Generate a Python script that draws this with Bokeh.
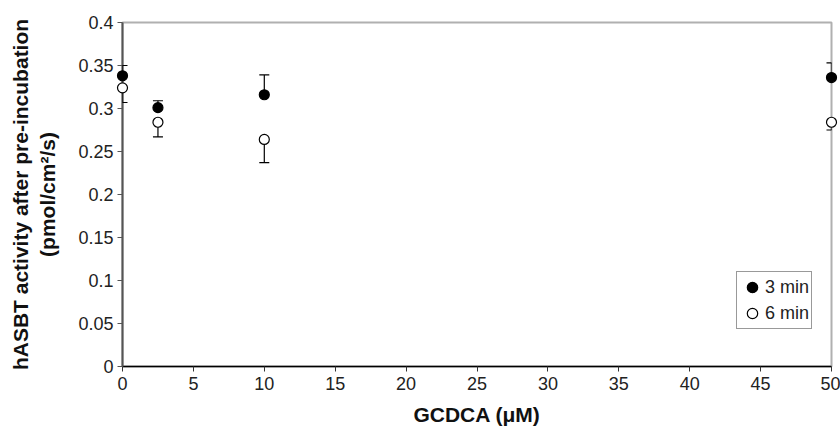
from bokeh.plotting import figure
from bokeh.models import (ColumnDataSource, Range1d, FixedTicker, CustomJSTickFormatter,
                          Whisker, TeeHead, Legend, LegendItem)
from bokeh.embed import file_html
from bokeh.resources import INLINE

# data
conc = [0, 2.5, 10, 50]
act_3min = [0.338, 0.301, 0.316, 0.336]
err_3min = [0.012, 0.008, 0.023, 0.017]
act_6min = [0.324, 0.284, 0.264, 0.284]
err_6min = [0.017, 0.017, 0.027, 0.009]
x_ticks = [0, 5, 10, 15, 20, 25, 30, 35, 40, 45, 50]
y_ticks = [0, 0.05, 0.1, 0.15, 0.2, 0.25, 0.3, 0.35, 0.4]

FONT = "Liberation Sans"

p = figure(width=840, height=428, output_backend="svg", toolbar_location=None,
           x_range=Range1d(0, 50), y_range=Range1d(0, 0.4),
           min_border_left=122, min_border_right=9, min_border_top=22, min_border_bottom=62)
p.grid.visible = False
p.background_fill_color = "white"
p.border_fill_color = "white"
p.outline_line_color = "#b0b0b0"
p.outline_line_width = 2

p.xaxis.ticker = FixedTicker(ticks=x_ticks)
p.yaxis.ticker = FixedTicker(ticks=y_ticks)
p.yaxis.formatter = CustomJSTickFormatter(code="return String(Math.round(tick*100)/100)")
for ax in (p.xaxis, p.yaxis):
    ax.minor_tick_line_color = None
    ax.major_tick_in = 0
    ax.major_tick_out = 5
    ax.major_label_text_font = FONT
    ax.major_label_text_font_size = "18px"
    ax.major_label_text_color = "#222222"
    ax.axis_label_text_font = FONT
    ax.axis_label_text_font_style = "bold"
    ax.axis_label_text_font_size = "21px"
    ax.axis_label_text_color = "#111111"
p.xaxis.axis_line_color = "black"
p.xaxis.axis_line_width = 1.5
p.xaxis.major_tick_line_color = "#333333"
p.xaxis.major_label_standoff = 5
p.xaxis.axis_label = "GCDCA (\u03bcM)"
p.xaxis.axis_label_standoff = 10
p.yaxis.axis_line_color = "#555555"
p.yaxis.axis_line_width = 2
p.yaxis.major_tick_line_color = "#555555"
p.yaxis.major_label_standoff = 4
p.yaxis.axis_label = "hASBT activity after pre-incubation\n(pmol/cm\u00b2/s)"
p.yaxis.axis_label_standoff = 16

src3 = ColumnDataSource(dict(x=conc, y=act_3min,
                             up=[a + e for a, e in zip(act_3min, err_3min)]))
src6 = ColumnDataSource(dict(x=conc, y=act_6min,
                             lo=[a - e for a, e in zip(act_6min, err_6min)]))

w3 = Whisker(source=src3, base="x", lower="y", upper="up", dimension="height",
             line_color="black", line_width=1.2, lower_head=None,
             upper_head=TeeHead(size=10, line_color="black", line_width=1.2), level="annotation")
w6 = Whisker(source=src6, base="x", lower="lo", upper="y", dimension="height",
             line_color="black", line_width=1.2, upper_head=None,
             lower_head=TeeHead(size=10, line_color="black", line_width=1.2), level="annotation")
p.add_layout(w3)
p.add_layout(w6)

r3 = p.scatter("x", "y", source=src3, size=10, marker="circle",
               fill_color="black", line_color="black", line_width=1.2, level="overlay")
r6 = p.scatter("x", "y", source=src6, size=10, marker="circle",
               fill_color="white", line_color="black", line_width=1.2, level="overlay")

legend = Legend(items=[LegendItem(label="3 min", renderers=[r3]),
                       LegendItem(label="6 min", renderers=[r6])],
                location=(614, 37), orientation="vertical",
                label_text_font=FONT, label_text_font_size="18px", label_text_color="#222222",
                glyph_width=26, glyph_height=26, label_height=26, label_standoff=-6,
                spacing=0, padding=2, margin=0,
                border_line_color="#333333", border_line_width=1.2,
                background_fill_color="white", background_fill_alpha=1)
p.add_layout(legend, "center")

open("out.html", "w").write(file_html(p, INLINE))
